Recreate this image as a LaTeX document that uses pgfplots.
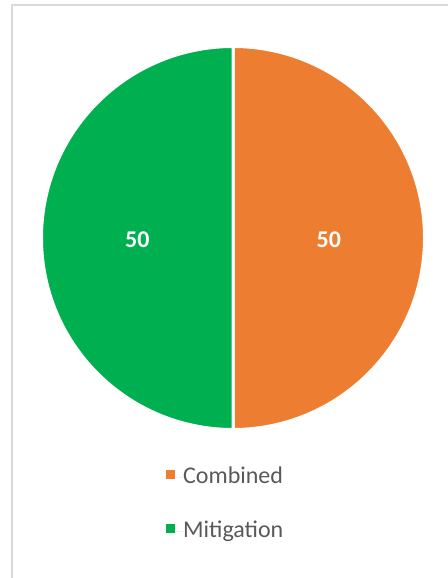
\documentclass[border=0pt]{standalone}
\usepackage{pgfplots}
\pgfplotsset{compat=1.18}
\usepackage{pgfplotstable}
\usepackage{fontspec}
\setmainfont{Carlito}
\definecolor{cOrange}{HTML}{ED7D31}
\definecolor{cGreen}{HTML}{00B050}
\definecolor{cText}{HTML}{595959}
\definecolor{cBorder}{HTML}{D9D9D9}
\pgfplotstableread{
label value
Combined 50
Mitigation 50
}\piedata
\pgfplotstablegetelem{0}{value}\of\piedata \let\va\pgfplotsretval
\pgfplotstablegetelem{1}{value}\of\piedata \let\vb\pgfplotsretval
\pgfmathsetmacro\total{\va+\vb}
\pgfmathsetmacro\fa{\va/\total}
\pgfmathsetmacro\fb{\vb/\total}
\pgfmathsetmacro\angA{90-360*\fa}
\pgfmathsetmacro\midA{(90+\angA)/2}
\pgfmathsetmacro\angB{\angA-360*\fb}
\pgfmathsetmacro\midB{(\angA+\angB)/2}
\pgfmathsetmacro\cxA{cos(\angA)}
\pgfmathsetmacro\cyA{sin(\angA)}
\pgfmathsetmacro\lxA{0.5*cos(\midA)}
\pgfmathsetmacro\lyA{0.5*sin(\midA)-0.01}
\pgfmathsetmacro\lxB{0.5*cos(\midB)}
\pgfmathsetmacro\lyB{0.5*sin(\midB)-0.01}
\def\R{191.5bp}
\begin{document}%
\begin{tikzpicture}[x=1bp,y=1bp]
\draw[cBorder, line width=2bp] (11.5,-10) -- (11.5,572.5) -- (460,572.5);
\begin{axis}[
  at={(233bp,340bp)}, anchor=center,
  scale only axis, width=383bp, height=383bp,
  xmin=-1, xmax=1, ymin=-1, ymax=1,
  hide axis, clip=false,
  legend style={draw=none, fill=none, at={(0.325,-0.095)}, anchor=north west,
    font=\fontsize{24bp}{28bp}\selectfont, text=cText, row sep=32bp, column sep=0bp,
    inner sep=0pt,
    nodes={inner sep=0pt, text height=17bp, text depth=5bp}},
  legend cell align=left,
  legend image code/.code={\fill[#1, draw=none] (0bp,-2bp) rectangle (9bp,7bp); \path[draw=none] (0bp,0bp) -- (17bp,0bp);},
]
\addlegendimage{fill=cOrange}
\addlegendentry{Combined}
\addlegendimage{fill=cGreen}
\addlegendentry{Mitigation}
\filldraw[fill=cOrange, draw=white, line width=3bp] (axis cs:0,0) -- (axis cs:0,1) arc[start angle=90, end angle=\angA, radius=\R] -- cycle;
\filldraw[fill=cGreen, draw=white, line width=3bp] (axis cs:0,0) -- (axis cs:\cxA,\cyA) arc[start angle=\angA, end angle=\angB, radius=\R] -- cycle;
\node[white, font=\bfseries\fontsize{24bp}{28bp}\selectfont] at (axis cs:\lxA,\lyA) {\va};
\node[white, font=\bfseries\fontsize{24bp}{28bp}\selectfont] at (axis cs:\lxB,\lyB) {\vb};
\end{axis}
\pgfresetboundingbox
\useasboundingbox (0,0) rectangle (448,578);
\end{tikzpicture}%
\end{document}
